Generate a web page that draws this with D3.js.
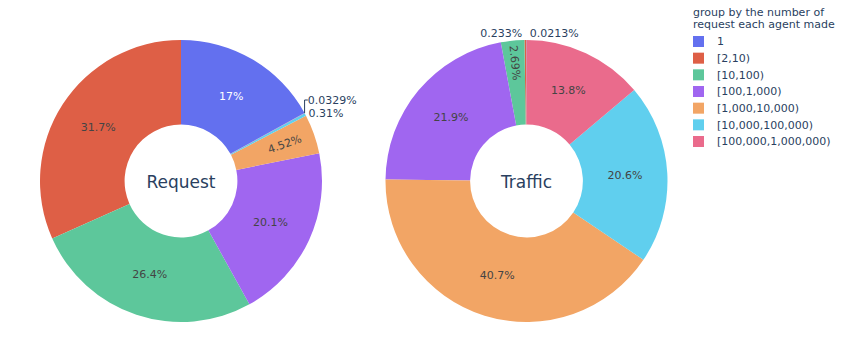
<!DOCTYPE html>
<html><head><meta charset="utf-8">
<script src="https://cdn.jsdelivr.net/npm/d3@7"></script>
<style>html,body{margin:0;padding:0;background:#fff}svg{display:block}</style>
</head><body>
<svg id="chart" width="850" height="343"></svg>
<script>
// ---- data ----
const categories = ["1", "[2,10)", "[10,100)", "[100,1,000)", "[1,000,10,000)", "[10,000,100,000)", "[100,000,1,000,000)"];
const requestShare = [17, 31.7, 26.4, 20.1, 4.52, 0.31, 0.0329];
const trafficShare = [0.0213, 0.233, 2.69, 21.9, 40.7, 20.6, 13.8];
const sliceOrder = [1, 2, 3, 4, 5, 6, 0];
const pieTitles = ["Request", "Traffic"];
const legendTitle = ["group by the number of", "request each agent made"];
const palette = ["#6370ef", "#de5f46", "#5dc79b", "#a066f0", "#f2a565", "#60cfee", "#ea6b8c"];

// ---- layout ----
const FONT = "DejaVu Sans";
const TXT = "#2a3f5f";
const R = 141, HOLE = 0.4, TEXTPAD = 3;
const pieCenters = [[181, 181], [526.5, 181]];
const svg = d3.select("#chart");
const color = d3.scaleOrdinal().domain(categories).range(palette);
const fmt = d3.format(".3~r");
const pieGen = d3.pie().sort(null).value(d => d.v).startAngle(0).endAngle(-2 * Math.PI);
const arcGen = d3.arc().innerRadius(R * HOLE).outerRadius(R);

function isLight(c) {
  const k = d3.rgb(c);
  return (k.r * 299 + k.g * 587 + k.b * 114) / 1000 >= 128;
}
function normRot(deg) {
  while (deg > 90) deg -= 180;
  while (deg < -90) deg += 180;
  return deg;
}
function maxHalf(a, half, r, ring) {
  const q = a + 1 / (2 * Math.tan(half));
  return r * Math.min(1 / (Math.sqrt(q * q + 0.5) + q), ring / (Math.sqrt(a * a + ring / 2) + a));
}

[requestShare, trafficShare].forEach((values, pi) => {
  const [cx, cy] = pieCenters[pi];
  const total = d3.sum(values);
  const data = sliceOrder.map(i => ({cat: categories[i], v: values[i]}));
  const arcs = pieGen(data);
  const g = svg.append("g").attr("transform", `translate(${cx},${cy})`);
  g.selectAll("path").data(arcs).join("path")
    .attr("d", arcGen)
    .attr("fill", d => color(d.data.cat));

  const labelG = svg.append("g");
  const outside = [];
  arcs.forEach(a => {
    const frac = a.data.v / total;
    const label = fmt(frac * 100) + "%";
    const mid = (a.startAngle + a.endAngle) / 2;
    const half = Math.PI * Math.min(frac, 0.5);
    const px = R * Math.sin(mid), py = -R * Math.cos(mid);
    const sliceCol = color(a.data.cat);
    const t = labelG.append("text")
      .attr("font-family", FONT).attr("font-size", 11)
      .attr("text-anchor", "middle").text(label);
    const bb = t.node().getBBox();
    const w = bb.width, h = bb.height, c0 = bb.y + bb.height / 2;
    t.attr("y", -c0);
    // inside transforms (auto orientation)
    const ring = 1 - HOLE;
    const rIns = Math.min(1 / (1 + 1 / Math.sin(half)), ring / 2);
    const outAng = Math.atan2(py, px) * 180 / Math.PI;
    let best = {scale: rIns * R * 2 / Math.hypot(w, h), rCenter: 1 - rIns, rot: 0};
    if (best.scale < 1) {
      const rr = R - 2 * TEXTPAD;
      let aa = h / w, s = maxHalf(aa, half, rr, ring);
      const tan = {scale: s * 2 / w, rCenter: Math.cos(s / rr) - aa * s / rr, rot: normRot(outAng + 90)};
      aa = w / h; s = maxHalf(aa, half, rr, ring);
      const rad = {scale: s * 2 / h, rCenter: Math.cos(s / rr) - aa * s / rr, rot: normRot(outAng)};
      [tan, rad].forEach(tr => { if (tr.scale > best.scale) best = tr; });
    }
    if (best.scale >= 1) {
      t.attr("fill", isLight(sliceCol) ? "#444" : "#fff")
        .attr("transform", `translate(${cx + px * best.rCenter},${cy + py * best.rCenter}) rotate(${best.rot})`);
    } else {
      let dx = w / 2, dy = h / 2;
      if (px < 0) dx = -dx;
      if (py < 0) dy = -dy;
      const ox = dx + Math.abs(dy) * (dx > 0 ? 1 : -1) / 2;
      const oy = dy / (1 + px * px / (py * py));
      t.attr("fill", TXT);
      outside.push({t, px, py, w, h, x: cx + px + ox, y: cy + py + oy, y0: cy + py + oy});
    }
  });
  // scoot overlapping outside labels away from the equator
  const quads = d3.group(outside, o => (o.px >= 0 ? "r" : "l") + (o.py < 0 ? "t" : "b"));
  quads.forEach(list => {
    list.sort((a, b) => Math.abs(a.py) - Math.abs(b.py));
    for (let i = 1; i < list.length; i++) {
      const p = list[i - 1], c = list[i];
      const hOverlap = Math.abs(c.x - p.x) < (c.w + p.w) / 2;
      if (!hOverlap) continue;
      if (c.py < 0) {
        if (c.y + c.h / 2 > p.y - p.h / 2) c.y = p.y - p.h / 2 - c.h / 2;
      } else {
        if (c.y - c.h / 2 < p.y + p.h / 2) c.y = p.y + p.h / 2 + c.h / 2;
      }
    }
  });
  outside.forEach(o => {
    o.t.attr("transform", `translate(${o.x},${o.y})`);
    if (Math.abs(o.y - o.y0) > 0.01) {
      const finalX = (o.h / 4) * (o.px < 0 ? -1 : 1);
      labelG.append("path")
        .attr("d", `M${cx + o.px},${cy + o.py}V${o.y}h${finalX}`)
        .attr("fill", "none").attr("stroke", TXT).attr("stroke-width", 1);
    }
  });

  svg.append("text")
    .attr("x", cx).attr("y", cy + 7)
    .attr("text-anchor", "middle")
    .attr("font-family", FONT).attr("font-size", 17)
    .attr("fill", TXT).text(pieTitles[pi]);
});

// ---- legend ----
const lg = svg.append("g").attr("transform", "translate(693,0)");
lg.selectAll("text.title").data(legendTitle).join("text")
  .attr("class", "title")
  .attr("x", 0).attr("y", (d, i) => 16 + i * 11.5)
  .attr("font-family", FONT).attr("font-size", 11)
  .attr("fill", TXT).text(d => d);
const rowY = d3.scalePoint().domain(categories).range([41.5, 141.5]);
const items = lg.selectAll("g.item").data(categories).join("g")
  .attr("class", "item")
  .attr("transform", d => `translate(0,${rowY(d)})`);
items.append("rect")
  .attr("x", 0).attr("y", -5.5).attr("width", 11).attr("height", 11)
  .attr("fill", d => color(d));
items.append("text")
  .attr("x", 24).attr("y", 0).attr("dy", "0.35em")
  .attr("font-family", FONT).attr("font-size", 11)
  .attr("fill", TXT).text(d => d);
</script>
</body></html>
